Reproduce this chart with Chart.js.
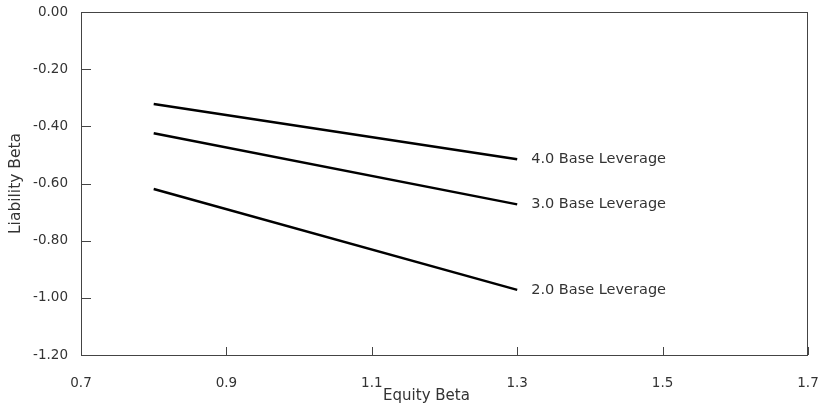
<!DOCTYPE html>
<html>
<head>
<meta charset="utf-8">
<script src="https://cdn.jsdelivr.net/npm/chart.js@4/dist/chart.umd.min.js"></script>
<style>
  html, body { margin: 0; padding: 0; background: #fff; }
  #wrap { width: 820px; height: 411px; }
</style>
</head>
<body>
<div id="wrap"><canvas id="betaChart"></canvas></div>
<script>
// values
const equityBeta = [0.8, 1.3];
const lev4 = [-0.322, -0.515];
const lev3 = [-0.424, -0.673];
const lev2 = [-0.619, -0.972];
const seriesNames = ['4.0 Base Leverage', '3.0 Base Leverage', '2.0 Base Leverage'];
const xTicks = [0.7, 0.9, 1.1, 1.3, 1.5, 1.7];
const yTicks = [0, -0.2, -0.4, -0.6, -0.8, -1.0, -1.2];

const text = '#333';
const axis = '#444';
const font = 'DejaVu Sans';

const toPts = ys => ys.map((y, i) => ({ x: equityBeta[i], y }));

const lineSet = (label, ys) => ({
    label,
    data: toPts(ys),
    borderColor: '#000',
    borderWidth: 2.5,
    pointRadius: 0,
    showLine: true,
    tension: 0,
});

/* ── frame, inner ticks, end labels and axis titles ─────────── */
const decor = {
    id: 'decor',
    afterDraw(chart) {
        const { ctx, chartArea: a, scales: { x, y } } = chart;
        ctx.save();
        ctx.strokeStyle = axis;
        ctx.lineWidth = 1;
        ctx.strokeRect(a.left + 0.5, a.top + 0.5, a.right - a.left - 1, a.bottom - a.top);

        ctx.beginPath();
        yTicks.forEach(v => {
            const py = Math.round(y.getPixelForValue(v)) + 0.5;
            ctx.moveTo(a.left, py);
            ctx.lineTo(a.left + 10, py);
        });
        xTicks.forEach(v => {
            const px = Math.round(x.getPixelForValue(v)) + 0.5;
            ctx.moveTo(px, a.bottom);
            ctx.lineTo(px, a.bottom - 8);
        });
        ctx.stroke();

        ctx.fillStyle = text;
        ctx.font = `14.5px "${font}"`;
        ctx.textBaseline = 'middle';
        ctx.textAlign = 'left';
        chart.data.datasets.forEach((ds, i) => {
            const last = ds.data[ds.data.length - 1];
            ctx.fillText(seriesNames[i], x.getPixelForValue(last.x) + 14, y.getPixelForValue(last.y));
        });

        ctx.textAlign = 'center';
        ctx.font = `15px "${font}"`;
        ctx.fillText('Equity Beta', (a.left + a.right) / 2 - 18, a.bottom + 41);

        ctx.font = `15.5px "${font}"`;
        ctx.translate(16, (a.top + a.bottom) / 2);
        ctx.rotate(-Math.PI / 2);
        ctx.fillText('Liability Beta', 0, 0);
        ctx.restore();
    },
};

new Chart(document.getElementById('betaChart'), {
    type: 'scatter',
    data: {
        datasets: [
            lineSet(seriesNames[0], lev4),
            lineSet(seriesNames[1], lev3),
            lineSet(seriesNames[2], lev2),
        ],
    },
    options: {
        responsive: true,
        maintainAspectRatio: false,
        animation: false,
        layout: { padding: { left: 0, right: 12, top: 12, bottom: 0 } },
        plugins: {
            legend: { display: false },
            tooltip: { enabled: false },
        },
        scales: {
            x: {
                type: 'linear',
                min: 0.7,
                max: 1.7,
                afterBuildTicks: s => { s.ticks = xTicks.map(value => ({ value })); },
                afterFit: s => { s.height = 56; s.paddingLeft = 0; s.paddingRight = 0; },
                grid: { display: false, drawTicks: false },
                border: { display: false },
                ticks: {
                    color: text,
                    padding: 20,
                    font: { family: font, size: 13.5 },
                    callback: v => v.toFixed(1),
                },
            },
            y: {
                min: -1.2,
                max: 0,
                afterBuildTicks: s => { s.ticks = yTicks.map(value => ({ value })); },
                afterFit: s => { s.width = 81; s.paddingTop = 0; s.paddingBottom = 0; },
                grid: { display: false, drawTicks: false },
                border: { display: false },
                ticks: {
                    color: text,
                    padding: 13,
                    font: { family: font, size: 13.5 },
                    callback: v => v.toFixed(2),
                },
            },
        },
    },
    plugins: [decor],
});
</script>
</body>
</html>
